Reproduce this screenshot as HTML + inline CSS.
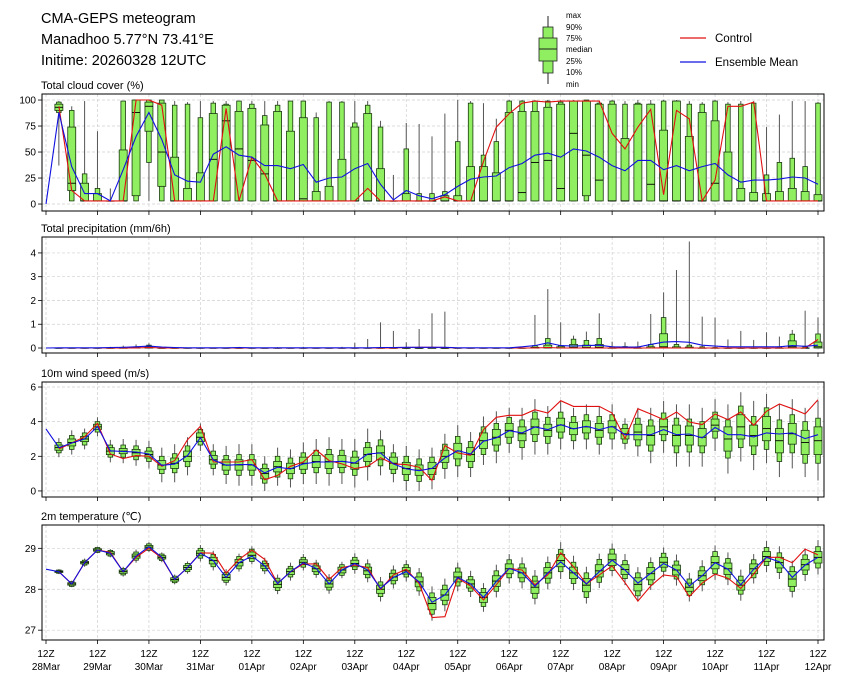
<!DOCTYPE html>
<html><head><meta charset="utf-8"><style>
html,body{margin:0;padding:0;background:#fff;}
svg{display:block;font-family:"Liberation Sans","DejaVu Sans",sans-serif;}
</style></head><body>
<svg id="chart" width="845" height="681" viewBox="0 0 845 681" xmlns="http://www.w3.org/2000/svg">
<g font-size="14.5" fill="#000">
<text x="41" y="23">CMA-GEPS meteogram</text>
<text x="41" y="44">Manadhoo 5.77°N 73.41°E</text>
<text x="41" y="65">Initime: 20260328 12UTC</text>
</g>
<g>
<line x1="548" y1="16" x2="548" y2="84" stroke="#222" stroke-width="1"/>
<rect x="543" y="27" width="10" height="46" fill="#90ef60" stroke="#222" stroke-width="0.8"/>
<rect x="539" y="38" width="18" height="23" fill="#90ef60" stroke="#222" stroke-width="0.8"/>
<line x1="539" y1="49" x2="557" y2="49" stroke="#222" stroke-width="1"/>
<g font-size="8" fill="#000">
<text x="566" y="18">max</text><text x="566" y="30">90%</text><text x="566" y="41">75%</text><text x="566" y="52">median</text><text x="566" y="64">25%</text><text x="566" y="75">10%</text><text x="566" y="87">min</text>
</g>
</g>
<g>
<g><line x1="680" y1="38" x2="706" y2="38" stroke="#e01010" stroke-width="1.2"/><text x="715" y="42" font-size="11.5">Control</text></g>
<g><line x1="680" y1="62" x2="706" y2="62" stroke="#1010e0" stroke-width="1.2"/><text x="715" y="66" font-size="11.5">Ensemble Mean</text></g>
</g>
<g id="panels"></g>
</svg>
<script>
// ===== time axis =====
const dayLabels = ["28Mar","29Mar","30Mar","31Mar","01Apr","02Apr","03Apr","04Apr","05Apr","06Apr","07Apr","08Apr","09Apr","10Apr","11Apr","12Apr"];
const nSteps = 60;

// ===== cloud cover (%) index = 6h step 0..60 =====
const cloudMean = [0,88,36,10,10,3,33,65,88,62,28,22,21,48,55,47,45,37,37,34,38,21,25,26,34,39,19,4,13,8,5,9,17,24,26,27,35,39,47,49,45,53,51,45,37,32,42,42,33,37,32,36,39,28,21,23,23,24,26,25,19];
const cloudCtrl = [null,94,13,3,3,3,3,100,100,95,3,3,3,3,92,3,45,29,3,3,3,3,3,3,3,15,3,3,3,3,3,7,3,3,41,74,87,97,99,98,99,99,99,99,68,53,74,91,9,90,82,3,23,94,94,98,3,3,3,3,3];
const cloudMax = [null,99,94,99,70,15,99,100,100,100,99,98,99,99,99,99,99,99,99,99,99,88,99,99,99,99,80,28,78,77,65,87,100,99,97,82,100,100,100,100,100,100,100,99,100,99,100,100,100,100,99,98,100,98,99,99,74,86,99,99,98];
const cloudP90 = [null,98,90,29,15,3,99,100,100,100,95,96,83,97,96,99,96,85,95,99,99,83,98,98,78,95,74,3,53,10,10,12,60,97,47,60,99,99,99,99,98,99,100,97,99,96,97,96,99,99,96,96,99,96,96,97,28,40,44,36,97];
const cloudP75 = [null,96,74,20,10,3,52,100,98,97,45,15,30,87,95,89,92,76,89,70,83,12,17,43,74,87,34,3,10,3,3,8,8,36,36,30,88,89,89,93,96,99,99,96,96,63,96,96,71,99,65,88,80,50,15,11,10,12,15,12,9];
const cloudMed = [null,93,20,3,3,3,3,88,94,50,3,3,3,43,80,53,42,29,3,3,5,3,3,3,3,3,3,3,3,3,3,3,3,3,3,3,3,11,40,42,15,68,47,23,3,3,3,19,3,3,3,3,20,3,3,3,3,3,3,3,3];
const cloudP25 = [null,90,13,3,3,3,3,8,70,17,3,3,3,3,3,3,3,3,3,3,3,3,3,3,3,3,3,3,3,3,3,3,3,3,3,3,3,3,3,3,3,3,8,3,3,3,3,3,3,3,3,3,3,3,3,3,3,3,3,3,3];
const cloudP10 = [null,88,3,3,3,3,3,3,40,3,3,3,3,3,3,3,3,3,3,3,3,3,3,3,3,3,3,3,3,3,3,3,3,3,3,3,3,3,3,3,3,3,3,3,3,3,3,3,3,3,3,3,3,3,3,3,3,3,3,3,3];
const cloudMin = [null,37,3,3,3,3,3,3,3,3,3,3,3,3,3,3,3,3,3,3,3,3,3,3,3,3,3,3,3,3,3,3,3,3,3,3,3,3,3,3,3,3,3,3,3,3,3,3,3,3,3,3,3,3,3,3,3,3,3,3,3];

// ===== precipitation (mm/6h) =====
const precMean = [0,0.01,0.01,0.01,0.01,0.02,0.03,0.05,0.08,0.04,0.02,0.01,0.01,0.01,0.01,0.02,0.01,0.01,0.01,0.01,0.01,0.01,0.01,0.01,0.01,0.01,0.02,0.02,0.03,0.03,0.03,0.03,0.01,0.01,0.01,0.01,0.01,0.05,0.1,0.22,0.1,0.08,0.1,0.12,0.05,0.04,0.04,0.15,0.25,0.27,0.24,0.12,0.08,0.05,0.05,0.05,0.05,0.05,0.1,0.07,0.12];
const precCtrl = [null,0,0,0,0,0,0,0,0.02,0,0,0,0,0,0,0,0,0,0,0,0,0,0,0,0,0,0,0,0.02,0.03,0.03,0.02,0,0,0,0,0,0,0,0.02,0,0,0,0,0,0,0,0,0.01,0,0,0,0,0,0,0,0,0,0,0,0.36];
const precMax = [null,0,0,0,0,0.05,0.1,0.15,0.2,0.05,0,0,0,0,0,0.05,0,0,0.04,0,0.05,0,0,0.05,0.22,0.38,1.08,0.72,0.24,0.8,1.46,1.53,0,0,0,0,0,0,1.39,2.48,1.08,0.52,0.69,1.46,0.27,0.24,0.27,1.43,2.34,3.28,4.48,1.32,1.28,0.36,0.72,0.34,0.66,0.48,0.76,1.57,1.29];
const precP90 = [null,0,0,0,0,0,0.03,0.05,0.12,0,0,0,0,0,0,0,0,0,0,0,0,0,0,0,0,0,0,0,0,0,0.02,0,0,0,0,0,0,0,0.1,0.4,0.1,0.37,0.32,0.4,0.05,0.06,0.05,0.15,1.28,0.15,0.12,0.05,0.02,0,0,0,0,0.05,0.58,0.05,0.59];
const precP75 = [null,0,0,0,0,0,0,0.02,0.05,0,0,0,0,0,0,0,0,0,0,0,0,0,0,0,0,0,0,0,0,0,0,0,0,0,0,0,0,0,0.03,0.12,0.05,0.15,0.12,0.15,0,0.02,0,0.05,0.6,0.05,0.04,0,0,0,0,0,0,0,0.3,0,0.25];
const precMed = [null,0,0,0,0,0,0,0,0.01,0,0,0,0,0,0,0,0,0,0,0,0,0,0,0,0,0,0,0,0,0,0,0,0,0,0,0,0,0,0,0.02,0,0.02,0.02,0.03,0,0,0,0,0.05,0,0,0,0,0,0,0,0,0,0.05,0,0.05];

// ===== 10m wind speed (m/s) =====
const windMean = [3.58,2.5,2.77,3.0,3.72,2.32,2.28,2.25,2.13,1.48,1.55,2.04,3.08,1.79,1.48,1.52,1.52,1.04,1.37,1.27,1.56,1.67,1.67,1.71,1.62,2.13,2.19,1.56,1.27,1.17,1.3,1.9,2.33,2.13,2.87,3.06,3.48,3.35,3.69,3.54,3.83,3.58,3.73,3.54,3.73,3.25,3.25,3.25,3.54,3.25,3.29,3.06,3.67,3.25,3.25,3.12,3.35,3.29,3.35,3.02,3.25];
const windCtrl = [null,2.42,2.77,3.13,3.9,2.13,1.87,2.04,2.0,1.42,1.75,2.96,3.73,1.67,1.67,1.67,1.81,0.65,0.9,1.42,1.67,2.37,1.75,1.56,1.29,1.42,1.92,1.56,1.52,1.37,0.6,2.62,2.19,2.06,3.54,4.25,4.37,4.37,4.69,4.5,5.21,4.88,4.88,4.88,4.5,3.02,4.75,4.44,4.12,4.56,3.98,3.83,4.44,4.12,4.56,3.79,4.6,5.02,4.75,4.44,5.27];
const windMed = [null,2.5,2.8,3.0,3.7,2.3,2.3,2.2,2.1,1.5,1.6,2.0,3.1,1.8,1.5,1.5,1.5,1.0,1.4,1.3,1.6,1.7,1.7,1.7,1.6,2.1,2.2,1.6,1.3,1.2,1.3,2.0,2.3,2.1,2.9,3.1,3.5,3.3,3.7,3.5,3.8,3.6,3.7,3.5,3.7,3.3,3.4,3.2,3.7,3.2,3.2,3.1,3.8,3.0,3.7,3.2,3.6,2.9,3.3,2.8,2.9];
const windHalfIqr = [null,0.15,0.2,0.15,0.15,0.2,0.15,0.2,0.2,0.25,0.3,0.3,0.25,0.25,0.3,0.3,0.3,0.3,0.3,0.3,0.35,0.35,0.4,0.35,0.35,0.4,0.4,0.35,0.35,0.3,0.35,0.35,0.45,0.4,0.45,0.45,0.4,0.4,0.45,0.35,0.4,0.35,0.35,0.4,0.35,0.3,0.45,0.55,0.45,0.6,0.55,0.5,0.35,0.7,0.7,0.6,0.7,0.7,0.6,0.7,0.8];
const windHalf80 = [null,0.3,0.4,0.35,0.3,0.35,0.35,0.4,0.4,0.5,0.55,0.6,0.45,0.5,0.55,0.6,0.6,0.55,0.6,0.6,0.6,0.65,0.7,0.65,0.7,0.7,0.75,0.6,0.7,0.65,0.65,0.7,0.85,0.75,0.8,0.8,0.75,0.8,0.85,0.75,0.75,0.7,0.7,0.8,0.7,0.55,0.8,0.9,0.8,1.0,0.95,0.9,0.75,1.1,1.2,1.1,1.2,1.2,1.1,1.2,1.3];
const windHalfMax = [null,0.55,0.7,0.6,0.55,0.65,0.7,0.75,0.8,1.0,1.1,1.1,0.8,0.9,1.1,1.2,1.2,1.0,1.1,1.1,1.2,1.3,1.4,1.3,1.4,1.5,1.3,1.1,1.3,1.2,1.2,1.3,1.5,1.3,1.4,1.5,1.3,1.5,1.6,1.4,1.4,1.2,1.3,1.4,1.3,0.9,1.4,1.6,1.5,1.8,1.8,1.7,1.5,2.0,2.0,2.0,2.0,2.1,2.0,2.0,2.3];

// ===== 2m temperature (°C) =====
const tempMean = [28.49,28.43,28.13,28.65,28.96,28.88,28.43,28.81,29.04,28.78,28.24,28.53,28.88,28.7,28.29,28.65,28.81,28.57,28.14,28.43,28.65,28.51,28.13,28.47,28.63,28.47,28.02,28.29,28.43,28.18,27.68,27.86,28.29,28.13,27.8,28.19,28.51,28.4,28.07,28.4,28.67,28.4,28.13,28.43,28.71,28.47,28.15,28.39,28.63,28.47,28.08,28.33,28.65,28.49,28.11,28.49,28.78,28.67,28.29,28.59,28.78];
const tempCtrl = [null,28.43,28.13,28.65,28.96,28.9,28.43,28.78,29.0,28.76,28.24,28.53,28.89,28.88,28.39,28.73,28.96,28.73,28.14,28.43,28.62,28.62,28.24,28.53,28.59,28.53,28.0,28.35,28.49,28.14,27.31,27.33,28.27,28.08,27.74,28.11,28.51,28.47,28.11,28.35,28.89,28.55,28.13,28.35,28.57,28.16,27.71,28.08,28.35,28.31,27.82,28.15,28.37,28.27,28.02,28.37,28.78,28.78,28.65,28.98,28.84];
const tempMed = [null,28.43,28.13,28.65,28.96,28.88,28.43,28.81,29.03,28.78,28.24,28.53,28.88,28.7,28.29,28.65,28.83,28.57,28.12,28.43,28.66,28.5,28.13,28.47,28.63,28.45,28.0,28.3,28.45,28.18,27.65,27.86,28.3,28.13,27.8,28.2,28.5,28.4,28.05,28.4,28.7,28.4,28.1,28.45,28.72,28.48,28.12,28.38,28.66,28.47,28.05,28.33,28.65,28.5,28.1,28.5,28.8,28.65,28.25,28.6,28.78];
const tempHalfIqr = [null,0.02,0.03,0.03,0.03,0.04,0.04,0.05,0.04,0.04,0.04,0.05,0.06,0.08,0.07,0.08,0.08,0.06,0.08,0.07,0.06,0.07,0.08,0.07,0.08,0.09,0.1,0.09,0.08,0.12,0.15,0.13,0.12,0.1,0.12,0.13,0.12,0.12,0.15,0.13,0.15,0.14,0.16,0.15,0.14,0.12,0.16,0.15,0.12,0.12,0.1,0.12,0.15,0.14,0.12,0.12,0.12,0.13,0.18,0.13,0.14];
const tempHalf80 = [null,0.04,0.06,0.06,0.06,0.07,0.08,0.1,0.08,0.08,0.08,0.1,0.12,0.15,0.12,0.15,0.15,0.12,0.15,0.13,0.12,0.14,0.15,0.13,0.15,0.17,0.18,0.17,0.15,0.22,0.26,0.24,0.22,0.18,0.22,0.25,0.22,0.22,0.27,0.25,0.27,0.26,0.3,0.28,0.26,0.22,0.28,0.27,0.22,0.22,0.2,0.22,0.27,0.25,0.22,0.22,0.22,0.24,0.3,0.24,0.26];
const tempHalfMax = [null,0.06,0.08,0.1,0.08,0.1,0.12,0.16,0.12,0.12,0.12,0.15,0.2,0.24,0.2,0.22,0.22,0.2,0.24,0.22,0.2,0.22,0.24,0.2,0.25,0.28,0.3,0.28,0.26,0.34,0.42,0.4,0.35,0.32,0.35,0.4,0.36,0.38,0.42,0.4,0.45,0.42,0.45,0.42,0.4,0.38,0.42,0.4,0.36,0.38,0.35,0.38,0.42,0.4,0.38,0.36,0.38,0.4,0.45,0.4,0.42];

const NS = "http://www.w3.org/2000/svg";
const root = document.getElementById('panels');
const X0 = 46, X1 = 818, LEFT = 42, RIGHT = 824;
function xs(t){ return X0 + (X1 - X0) * t / nSteps; }
function mk(tag, attrs, parent){ const e = document.createElementNS(NS, tag); for (const k in attrs) e.setAttribute(k, attrs[k]); (parent||root).appendChild(e); return e; }

const FILL = "#90ef60", EDGE = "#1a3a10";

function drawPanel(p){
  const g = mk('g', {});
  
  
  const ys = v => p.bottom - (v - p.vmin) / (p.vmax - p.vmin) * (p.bottom - p.top);
  // grid
  for (let d = 0; d < dayLabels.length; d++){
    const x = xs(d * 4);
    const gl = mk('line', {x1:x, x2:x, y1:p.top, y2:p.bottom, stroke:'#d0d0d0', 'stroke-width':0.7, 'stroke-dasharray':'3,2'}, g);
    
    
    mk('line', {x1:x, x2:x, y1:p.bottom, y2:p.bottom + 4, stroke:'#000', 'stroke-width':0.8}, g);
  }
  p.ticks.forEach(v => {
    const y = ys(v);
    const gl = mk('line', {x1:LEFT, x2:RIGHT, y1:y, y2:y, stroke:'#d0d0d0', 'stroke-width':0.7, 'stroke-dasharray':'3,2'}, g);
    
    
    mk('line', {x1:LEFT - 4, x2:LEFT, y1:y, y2:y, stroke:'#000', 'stroke-width':0.8}, g);
    const tl = mk('text', {x:LEFT - 6, y:y + 3.5, 'font-size':10, 'text-anchor':'end'}, g);
    tl.textContent = String(v);
    
    
  });
  const title = mk('text', {x:41, y:p.top - 5, 'font-size':11}, g);
  title.textContent = p.title;
  
  
  // boxes
  for (let t = 1; t <= nSteps; t++){
    const q = p.q(t);
    if (!q) continue;
    const x = xs(t);
    const bg = mk('g', {}, g);
    
    
    mk('line', {x1:x, x2:x, y1:ys(q[0]), y2:ys(q[6]), stroke:'#555', 'stroke-width':1}, bg);
    const w1 = 4.6, w2 = 8;
    mk('rect', {x:x - w1/2, y:ys(q[5]), width:w1, height:Math.max(0.3, ys(q[1]) - ys(q[5])), fill:FILL, stroke:EDGE, 'stroke-width':0.8}, bg);
    mk('rect', {x:x - w2/2, y:ys(q[4]), width:w2, height:Math.max(0.3, ys(q[2]) - ys(q[4])), fill:FILL, stroke:EDGE, 'stroke-width':0.8}, bg);
    mk('line', {x1:x - w2/2, x2:x + w2/2, y1:ys(q[3]), y2:ys(q[3]), stroke:'#000', 'stroke-width':0.9}, bg);
  }
  // lines
  function line(arr, color, nm){
    let d = '';
    arr.forEach((v, t) => { if (v === null) return; d += (d ? 'L' : 'M') + xs(t).toFixed(1) + ',' + ys(v).toFixed(1); });
    const pl = mk('path', {d:d, fill:'none', stroke:color, 'stroke-width':1.1}, g);
    
    
  }
  line(p.ctrl, '#e01010', p.name + '-control-line');
  line(p.mean, '#1010e0', p.name + '-ensemble-mean-line');
  // frame
  mk('rect', {x:LEFT, y:p.top, width:RIGHT - LEFT, height:p.bottom - p.top, fill:'none', stroke:'#000', 'stroke-width':1}, g);
}

drawPanel({name:'cloud-cover', title:'Total cloud cover (%)', top:94, bottom:211, vmin:-6.7, vmax:105.8, ticks:[0,25,50,75,100],
  mean:cloudMean, ctrl:cloudCtrl,
  q:t => [cloudMin[t], cloudP10[t], cloudP25[t], cloudMed[t], cloudP75[t], cloudP90[t], cloudMax[t]]});
drawPanel({name:'precipitation', title:'Total precipitation (mm/6h)', top:237, bottom:353, vmin:-0.21, vmax:4.67, ticks:[0,1,2,3,4],
  mean:precMean, ctrl:precCtrl,
  q:t => [0, 0, 0, precMed[t], precP75[t], precP90[t], precMax[t]]});
drawPanel({name:'wind-speed', title:'10m wind speed (m/s)', top:382, bottom:497, vmin:-0.35, vmax:6.29, ticks:[0,2,4,6],
  mean:windMean, ctrl:windCtrl,
  q:t => [Math.max(0, windMed[t] - windHalfMax[t]), windMed[t] - windHalf80[t], windMed[t] - windHalfIqr[t], windMed[t], windMed[t] + windHalfIqr[t], windMed[t] + windHalf80[t], windMed[t] + windHalfMax[t]]});
drawPanel({name:'temperature', title:'2m temperature (℃)', top:525, bottom:640, vmin:26.76, vmax:29.57, ticks:[27,28,29],
  mean:tempMean, ctrl:tempCtrl,
  q:t => [tempMed[t] - tempHalfMax[t], tempMed[t] - tempHalf80[t], tempMed[t] - tempHalfIqr[t], tempMed[t], tempMed[t] + tempHalfIqr[t], tempMed[t] + tempHalf80[t], tempMed[t] + tempHalfMax[t]]});

// x tick labels
const xl = mk('g', {'font-size':10, 'text-anchor':'middle'});


dayLabels.forEach((lab, d) => {
  const x = xs(d * 4);
  const t1 = mk('text', {x:x, y:657}, xl); t1.textContent = '12Z';
  
  
  const t2 = mk('text', {x:x, y:670}, xl); t2.textContent = lab;
  
  
});
</script>
</body></html>
